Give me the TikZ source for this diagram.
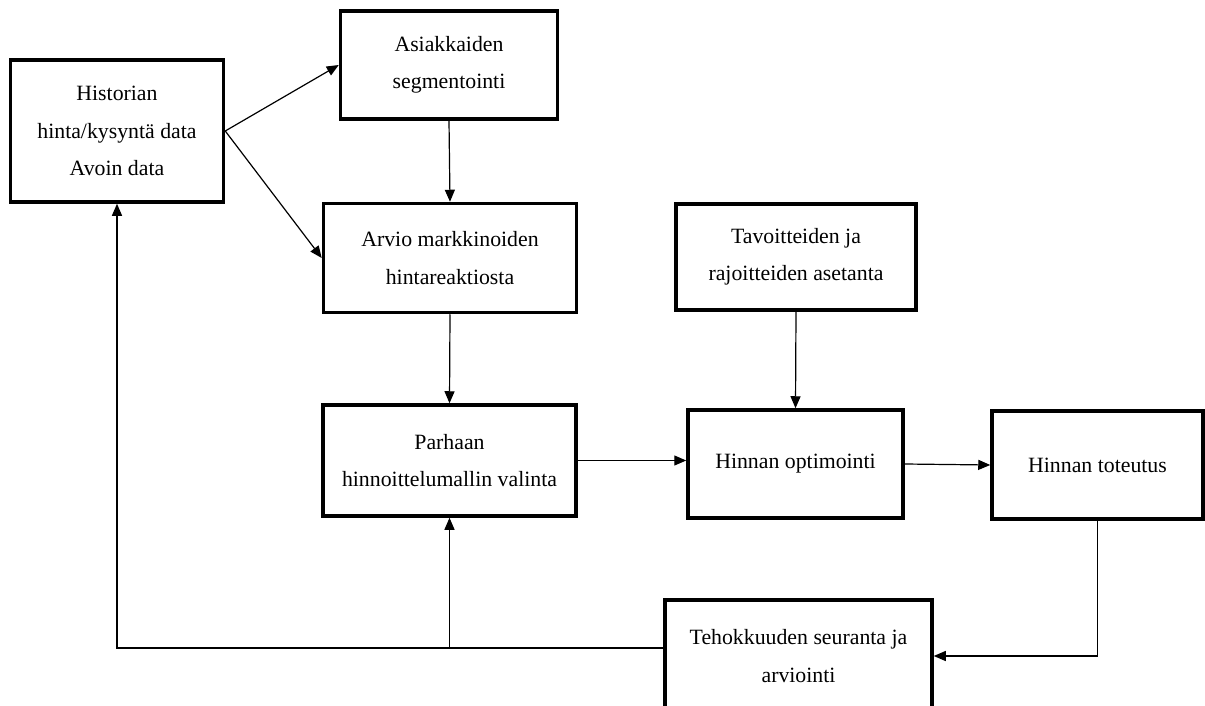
\documentclass[tikz,border=0pt]{standalone}
\usepackage{fontspec}
\setmainfont{Liberation Serif}
\usetikzlibrary{arrows.meta}
\begin{document}
\begin{tikzpicture}[
              x=1pt, y=-1pt,
              blk/.style = {draw, line width=3.5pt, align=center, inner sep=0pt,
                            font=\fontsize{21.8}{37.5}\selectfont},
              arr/.style = {draw, line width=1.2pt, -{Triangle[length=12pt,width=10pt]}}
            ]
            \useasboundingbox (0,0) rectangle (1205,706);
            \clip (0,0) rectangle (1205,706);
            \node[blk, minimum width=213pt, minimum height=142pt] (hist) at (117,131)
              {Historian\\hinta/kysyntä data\\Avoin data};
            \node[blk, minimum width=217pt, minimum height=108pt] (seg) at (449,65)
              {Asiakkaiden\\segmentointi};
            \node[blk, minimum width=253pt, minimum height=109pt] (arvio) at (450,258)
              {Arvio markkinoiden\\hintareaktiosta};
            \node[blk, minimum width=240pt, minimum height=106pt] (tav) at (796,257)
              {Tavoitteiden ja\\rajoitteiden asetanta};
            \node[blk, minimum width=253pt, minimum height=111pt] (valinta) at (449.5,460.5)
              {Parhaan\\hinnoittelumallin valinta};
            \node[blk, minimum width=215pt, minimum height=108pt] (opt) at (795.5,464)
              {Hinnan optimointi};
            \node[blk, minimum width=211pt, minimum height=108pt] (tot) at (1097.5,465)
              {Hinnan toteutus};
            \node[blk, minimum width=267pt, minimum height=112pt] (teh) at (798.5,656)
              {Tehokkuuden seuranta ja\\arviointi};
            % main flow
            \draw[arr] (hist.east) -- (seg.west);
            \draw[arr] (hist.east) -- (arvio.west);
            \draw[arr] (seg.south) -- (arvio.north);
            \draw[arr] (arvio.south) -- (valinta.north);
            \draw[arr] (tav.south) -- (opt.north);
            \draw[arr] (valinta.east) -- (valinta.east -| opt.west);
            \draw[arr] (opt.east) -- (tot.west);
            \draw[arr] (tot.south) |- (teh.east);
            % feedback
            \coordinate (fb) at ([yshift=8pt]teh.west);
            \draw[arr] (fb) -| (hist.south);
            \draw[arr] (valinta.south |- fb) -- (valinta.south);
          \end{tikzpicture}
\end{document}
